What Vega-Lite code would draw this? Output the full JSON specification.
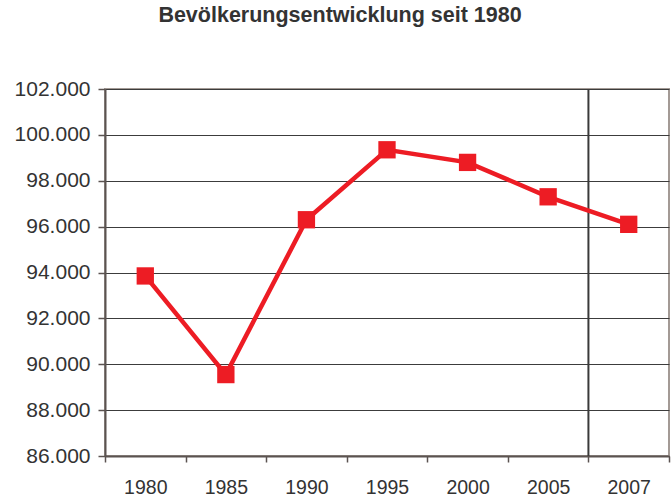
{
  "$schema": "https://vega.github.io/schema/vega-lite/v6.json",
  "width": 564,
  "height": 367,
  "autosize": {"type": "none"},
  "padding": {"left": 105, "top": 89, "right": 3, "bottom": 43},
  "title": {
    "text": "Bevölkerungsentwicklung seit 1980",
    "font": "Liberation Sans",
    "fontSize": 21.5,
    "fontWeight": "bold",
    "color": "#333333",
    "anchor": "middle",
    "dx": -47,
    "baseline": "alphabetic",
    "offset": 35
  },
  "config": {
    "font": "Liberation Sans",
    "view": {"stroke": "#a39a95", "strokeWidth": 2}
  },
  "layer": [
    {
      "data": {"values": [{"year": "2007"}]},
      "mark": {"type": "rule", "color": "#3a3a3a", "strokeWidth": 2},
      "encoding": {
        "x": {"field": "year", "type": "ordinal", "bandPosition": 0,
              "scale": {"domain": ["1980","1985","1990","1995","2000","2005","2007"]}}
      }
    },
    {
      "data": {"values": [
        {"year": "1980", "population": 93850},
        {"year": "1985", "population": 89550},
        {"year": "1990", "population": 96300},
        {"year": "1995", "population": 99350},
        {"year": "2000", "population": 98800},
        {"year": "2005", "population": 97300},
        {"year": "2007", "population": 96100}
      ]},
      "layer": [
        {"mark": {"type": "line", "color": "#ed1c24", "strokeWidth": 4.5}},
        {"mark": {"type": "point", "shape": "square", "filled": true, "opacity": 1, "size": 300, "color": "#ed1c24"}}
      ],
      "encoding": {
        "x": {"field": "year", "type": "ordinal",
              "scale": {"domain": ["1980","1985","1990","1995","2000","2005","2007"]},
              "axis": {"title": null, "labelAngle": 0, "tickBand": "extent", "grid": false,
                       "labelAlign": "center",
                       "domainColor": "#5b5350", "domainWidth": 2, "tickColor": "#5b5350", "tickWidth": 1.5, "tickSize": 6,
                       "labelFontSize": 19.5, "labelColor": "#333333", "labelPadding": 25, "labelFont": "Liberation Sans"}},
        "y": {"field": "population", "type": "quantitative",
              "scale": {"domain": [86000, 102000], "nice": false, "zero": false},
              "axis": {"title": null, "values": [86000,88000,90000,92000,94000,96000,98000,100000,102000],
                       "labelExpr": "replace(format(datum.value, ',.0f'), ',', '.')",
                       "grid": true, "gridColor": "#3c3c3c", "gridWidth": 1, "gridOpacity": 1,
                       "domainColor": "#5b5350", "domainWidth": 2, "tickColor": "#5b5350", "tickWidth": 1.5, "tickSize": 7,
                       "labelFontSize": 21, "labelColor": "#333333", "labelPadding": 8, "labelFont": "Liberation Sans"}}
      }
    }
  ]
}
